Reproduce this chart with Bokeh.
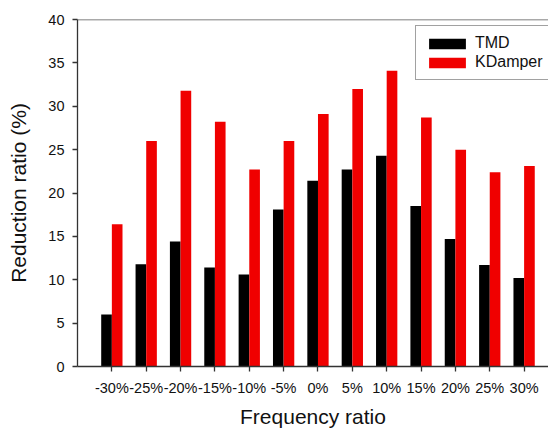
from bokeh.plotting import figure
from bokeh.models import Range1d, FixedTicker, Span, Legend, LegendItem
from bokeh.embed import file_html
from bokeh.resources import INLINE
import numpy as np

# Frequency ratio categories and reduction ratios (%)
categories = ["-30%", "-25%", "-20%", "-15%", "-10%", "-5%", "0%",
              "5%", "10%", "15%", "20%", "25%", "30%"]
tmd = [6.0, 11.8, 14.4, 11.4, 10.6, 18.1, 21.4, 22.7, 24.3, 18.5, 14.7, 11.7, 10.2]
kdamper = [16.4, 26.0, 31.8, 28.2, 22.7, 26.0, 29.1, 32.0, 34.1, 28.7, 25.0, 22.4, 23.1]
y_ticks = [0, 5, 10, 15, 20, 25, 30, 35, 40]

FONT = "Liberation Sans"
RED = "#F00000"
bar_w = 0.31

pos = np.arange(1, len(categories) + 1)

p = figure(width=548, height=431, output_backend="svg", toolbar_location=None,
           x_range=Range1d(0, 13.71), y_range=Range1d(0, 40),
           min_border_left=77, min_border_right=0, min_border_top=19,
           min_border_bottom=65)
p.outline_line_color = None
p.grid.visible = False
p.background_fill_color = "white"
p.border_fill_color = "white"

r_tmd = p.vbar(x=pos - bar_w / 2, top=tmd, width=bar_w, bottom=0,
               fill_color="black", line_color=None)
r_kd = p.vbar(x=pos + bar_w / 2, top=kdamper, width=bar_w, bottom=0,
              fill_color=RED, line_color=None)

# top border of the plotting area
p.add_layout(Span(location=40, dimension="width", line_color="#555555",
                  line_width=1.5))

xa = p.xaxis[0]
xa.ticker = FixedTicker(ticks=list(pos))
xa.major_label_overrides = {int(i): c for i, c in zip(pos, categories)}
xa.axis_label = "Frequency ratio"

ya = p.yaxis[0]
ya.ticker = FixedTicker(ticks=y_ticks)
ya.axis_label = "Reduction ratio (%)"

for ax in (xa, ya):
    ax.axis_line_color = "#333333"
    ax.axis_line_width = 1.3
    ax.major_tick_line_color = "#333333"
    ax.major_tick_line_width = 1.3
    ax.major_tick_out = 5
    ax.major_tick_in = 0
    ax.minor_tick_line_color = None
    ax.major_label_text_font = FONT
    ax.major_label_text_font_size = "14.5px"
    ax.major_label_text_color = "#111111"
    ax.major_label_standoff = 8
    ax.axis_label_text_font = FONT
    ax.axis_label_text_font_size = "21px"
    ax.axis_label_text_font_style = "normal"
    ax.axis_label_text_color = "#111111"

xa.axis_label_standoff = 6
ya.axis_label_standoff = 15

legend = Legend(items=[LegendItem(label="TMD", renderers=[r_tmd]),
                       LegendItem(label="KDamper", renderers=[r_kd])],
                location=(338, 286))
legend.label_text_font = FONT
legend.label_text_font_size = "16px"
legend.label_text_color = "#111111"
legend.glyph_width = 46
legend.glyph_height = 13
legend.label_height = 17
legend.label_standoff = 5
legend.spacing = 1
legend.padding = 8
legend.margin = 0
legend.border_line_color = "#444444"
legend.border_line_width = 1.3
legend.background_fill_color = "white"
p.add_layout(legend, "center")

open("out.html", "w").write(file_html(p, INLINE))
